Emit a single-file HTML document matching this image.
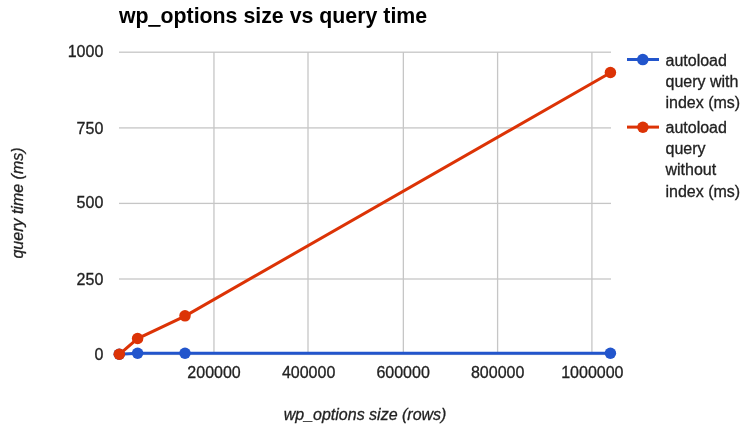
<!DOCTYPE html>
<html><head><meta charset="utf-8">
<style>
html,body{margin:0;padding:0;background:#fff;}
body{width:750px;height:430px;overflow:hidden;}
svg{display:block;filter:blur(0.4px);}
text{font-family:"Liberation Sans",Arial,sans-serif;}
.t{stroke:#222222;stroke-width:0.3px;}
</style></head>
<body>
<svg width="750" height="430" viewBox="0 0 750 430">
<rect x="0" y="0" width="750" height="430" fill="#ffffff"/>
<!-- title -->
<text x="119" y="22.5" font-size="21.33" font-weight="bold" fill="#000000">wp_options size vs query time</text>
<rect x="148.3" y="25.0" width="12.1" height="1.8" fill="#000000"/>
<!-- gridlines -->
<g fill="#c6c6c6">
<rect x="119" y="51.55" width="492" height="1.3"/>
<rect x="119" y="127.25" width="492" height="1.3"/>
<rect x="119" y="202.75" width="492" height="1.3"/>
<rect x="119" y="278.35" width="492" height="1.3"/>
<rect x="213.30" y="52" width="1.3" height="302"/>
<rect x="307.35" y="52" width="1.3" height="302"/>
<rect x="402.70" y="52" width="1.3" height="302"/>
<rect x="496.95" y="52" width="1.3" height="302"/>
<rect x="591.25" y="52" width="1.3" height="302"/>
</g>
<rect x="119" y="354.1" width="492" height="1" fill="#cccccc"/>
<!-- y labels -->
<g class="t" font-size="16" fill="#222222" text-anchor="end">
<text x="103.3" y="57.2">1000</text>
<text x="103.3" y="133.9">750</text>
<text x="103.3" y="208.4">500</text>
<text x="103.3" y="284.9">250</text>
<text x="103.3" y="359.8">0</text>
</g>
<!-- x labels -->
<g class="t" font-size="16" fill="#222222" text-anchor="middle">
<text x="214.05" y="377.8">200000</text>
<text x="308.6" y="377.8">400000</text>
<text x="403.1" y="377.8">600000</text>
<text x="497.65" y="377.8">800000</text>
<text x="592.35" y="377.8">1000000</text>
</g>
<!-- axis titles -->
<text x="365.1" y="419.9" font-size="16" class="t" font-style="italic" fill="#222222" text-anchor="middle">wp_options size (rows)</text>
<text transform="translate(23.4,203) rotate(-90)" x="0" y="0" font-size="16" class="t" font-style="italic" fill="#222222" text-anchor="middle">query time (ms)</text>
<!-- series blue -->
<g>
<polyline points="119.3,354.3 137.6,353.2 185,353.2 610.4,353.3" fill="none" stroke="#2255cc" stroke-width="3"/>
<g fill="#2255cc">
<circle cx="119.3" cy="354.3" r="5.75"/>
<circle cx="137.6" cy="353.2" r="5.75"/>
<circle cx="185" cy="353.2" r="5.75"/>
<circle cx="610.4" cy="353.3" r="5.75"/>
</g>
</g>
<!-- series red -->
<g>
<polyline points="119.3,354.3 137.6,338.6 185,316.05 610.4,72.8" fill="none" stroke="#dc3306" stroke-width="3"/>
<g fill="#dc3306">
<circle cx="119.3" cy="354.3" r="5.75"/>
<circle cx="137.6" cy="338.5" r="5.75"/>
<circle cx="185" cy="315.85" r="5.75"/>
<circle cx="610.4" cy="72.55" r="5.75"/>
</g>
</g>
<!-- legend -->
<g>
<rect x="627" y="58" width="32" height="3" fill="#2255cc"/>
<circle cx="642.8" cy="59.6" r="5.75" fill="#2255cc"/>
<g class="t" font-size="16" fill="#222222">
<text x="665.5" y="65.7">autoload</text>
<text x="665.5" y="86.9">query with</text>
<text x="665.5" y="108.0">index (ms)</text>
</g>
<rect x="627" y="125.6" width="32" height="3" fill="#dc3306"/>
<circle cx="642.9" cy="127.3" r="5.75" fill="#dc3306"/>
<g class="t" font-size="16" fill="#222222">
<text x="665.5" y="133.0">autoload</text>
<text x="665.5" y="154.1">query</text>
<text x="665.5" y="175.3">without</text>
<text x="665.5" y="196.6">index (ms)</text>
</g>
</g>
</svg>
</body></html>
